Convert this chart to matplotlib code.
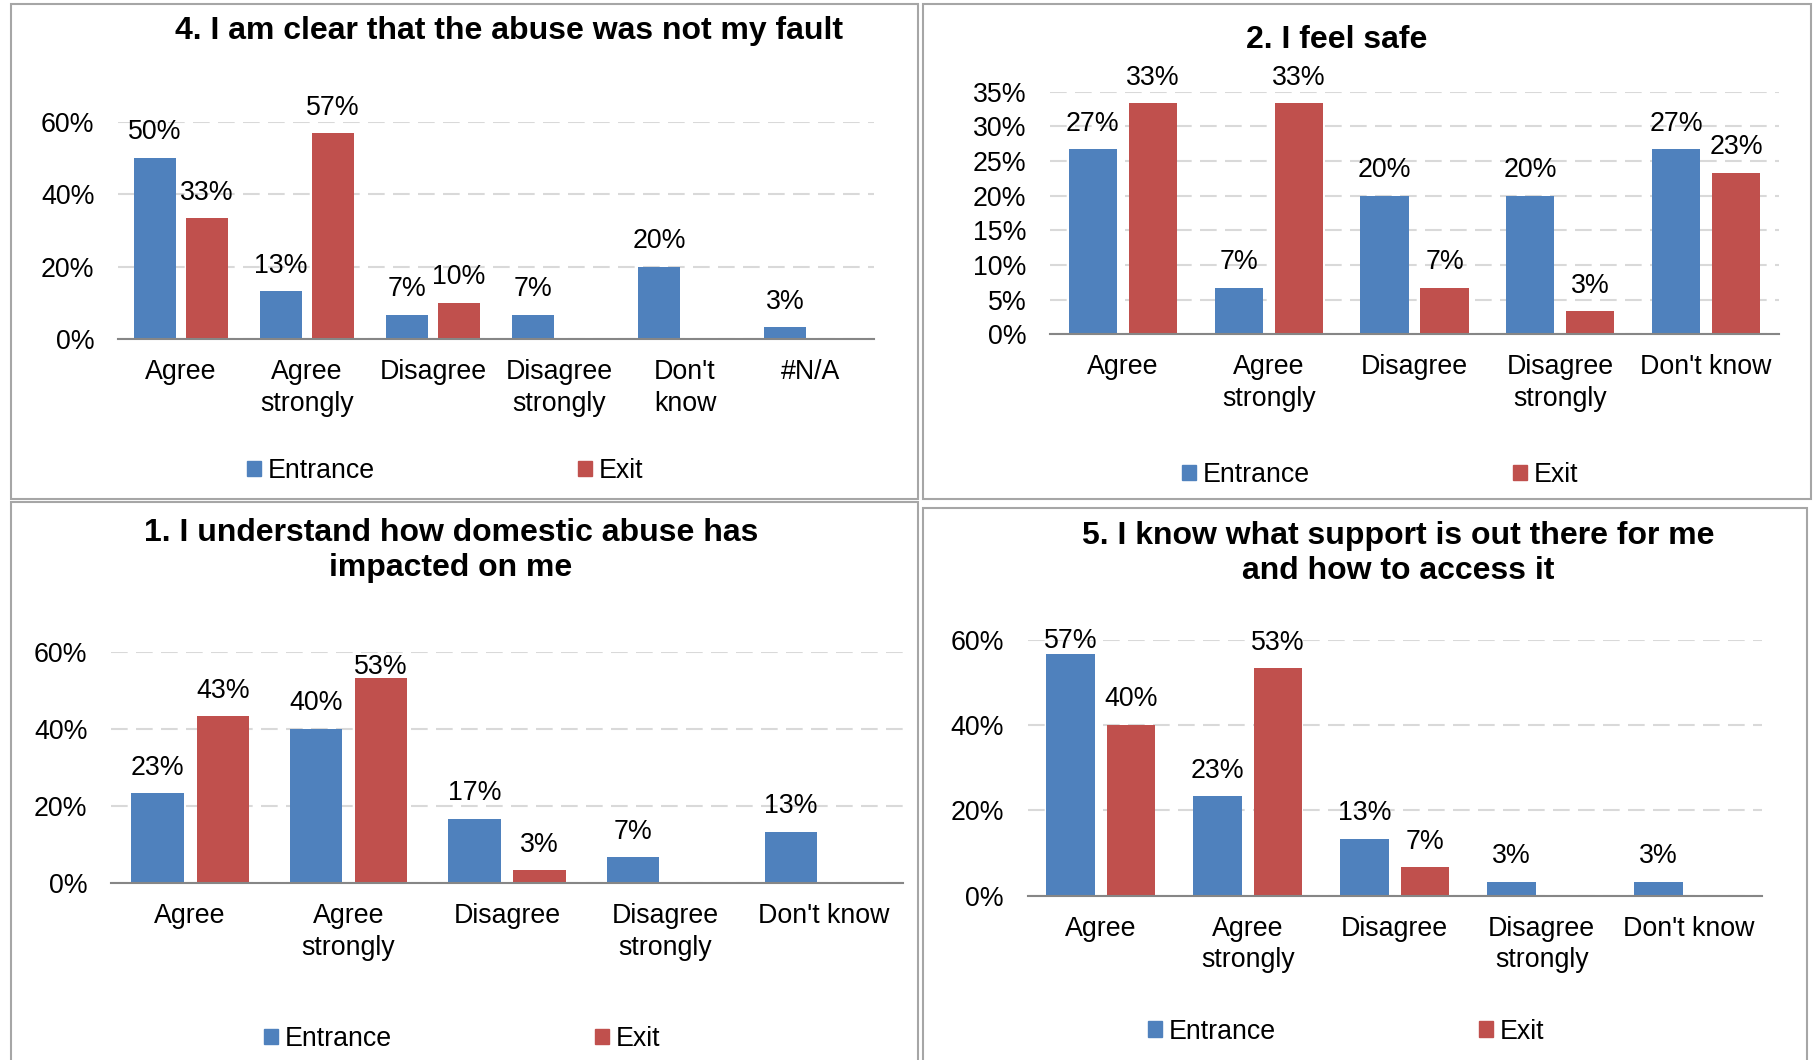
import matplotlib
matplotlib.use("Agg")
import matplotlib.pyplot as plt
from matplotlib.patches import Patch, Rectangle
from matplotlib.ticker import PercentFormatter
import numpy as np

plt.rcParams["font.family"] = ["Liberation Sans", "DejaVu Sans"]

W, H = 1814, 1060
BLUE = "#4F81BD"
RED = "#C0504D"
GRID = "#D9D9D9"
FRAME = "#A6A6A6"
FS = 19.3
TITLE_FS = 23

series_names = ["Entrance", "Exit"]

# 4. not my fault
q4_title = "4. I am clear that the abuse was not my fault"
q4_cats = ["Agree", "Agree\nstrongly", "Disagree", "Disagree\nstrongly", "Don't\nknow", "#N/A"]
q4_entrance = [0.50, 0.133, 0.067, 0.067, 0.20, 0.033]
q4_exit = [0.333, 0.567, 0.10, 0, 0, 0]

# 2. feel safe
q2_title = "2. I feel safe"
q2_cats = ["Agree", "Agree\nstrongly", "Disagree", "Disagree\nstrongly", "Don't know"]
q2_entrance = [0.267, 0.067, 0.20, 0.20, 0.267]
q2_exit = [0.333, 0.333, 0.067, 0.033, 0.233]

# 1. impact
q1_title = "1. I understand how domestic abuse has\nimpacted on me"
q1_cats = ["Agree", "Agree\nstrongly", "Disagree", "Disagree\nstrongly", "Don't know"]
q1_entrance = [0.233, 0.40, 0.167, 0.067, 0.133]
q1_exit = [0.433, 0.533, 0.033, 0, 0]

# 5. support
q5_title = "5. I know what support is out there for me\nand how to access it"
q5_cats = ["Agree", "Agree\nstrongly", "Disagree", "Disagree\nstrongly", "Don't know"]
q5_entrance = [0.567, 0.233, 0.133, 0.033, 0.033]
q5_exit = [0.40, 0.533, 0.067, 0, 0]


def fig_rect(x0, y0, x1, y1):
    # pixel box (top-left origin) -> figure fraction rect
    return [x0 / W, 1 - y1 / H, (x1 - x0) / W, (y1 - y0) / H]


def draw_panel(fig, frame, axbox, title, title_xy, cats, entrance, exit_, ymax, ystep,
               legend_xy, label_pads=None):
    label_pads = label_pads or {}
    fx0, fy0, fx1, fy1 = frame
    fig.add_artist(Rectangle((fx0 / W, 1 - fy1 / H), (fx1 - fx0) / W, (fy1 - fy0) / H,
                             transform=fig.transFigure, fill=False,
                             edgecolor=FRAME, lw=1.5))

    ax = fig.add_axes(fig_rect(*axbox))
    x = np.arange(len(cats))
    width = 0.33
    off = 0.206
    for s, (vals, color) in enumerate([(entrance, BLUE), (exit_, RED)]):
        xs = x - off if s == 0 else x + off
        bars = ax.bar(xs, vals, width, color=color, zorder=3)
        for i, (b, v) in enumerate(zip(bars, vals)):
            if v <= 0:
                continue
            ax.annotate(f"{v:.0%}", (b.get_x() + b.get_width() / 2, v),
                        xytext=(0, label_pads.get((s, i), 9)), textcoords="offset points",
                        ha="center", va="bottom", fontsize=FS, zorder=4,
                        annotation_clip=False)

    ax.set_xlim(-0.5, len(cats) - 0.5)
    ax.set_ylim(0, ymax)
    ax.set_yticks(np.arange(0, ymax + 1e-9, ystep))
    ax.yaxis.set_major_formatter(PercentFormatter(1.0, decimals=0))
    ax.set_xticks(x)
    ax.set_xticklabels(cats, fontsize=FS, linespacing=1.26)
    ax.tick_params(axis="y", length=0, pad=17, labelsize=FS)
    ax.tick_params(axis="x", length=0, pad=14.5)
    ax.grid(axis="y", color=GRID, lw=1.5, linestyle=(0, (8, 4)), zorder=0)
    for side in ["left", "right", "top"]:
        ax.spines[side].set_visible(False)
    ax.spines["bottom"].set_color("#868686")
    ax.spines["bottom"].set_linewidth(1.5)
    ax.spines["bottom"].set_zorder(5)

    fig.text(title_xy[0] / W, 1 - (title_xy[1] + 2.5) / H, title, fontsize=TITLE_FS,
             fontweight="bold", ha="center", va="center", linespacing=1.23)

    handles = [Patch(color=BLUE), Patch(color=RED)]
    fig.legend(handles, series_names, loc="center",
               bbox_to_anchor=(legend_xy[0] / W, 1 - (legend_xy[1] + 3) / H),
               ncol=2, frameon=False, fontsize=FS, handlelength=0.5,
               handleheight=0.5, handletextpad=0.25, columnspacing=7.6)
    return ax


fig = plt.figure(figsize=(W / 100, H / 100), dpi=100)

draw_panel(fig, (11, 4, 918, 499), (118, 121.5, 874, 339.3), q4_title, (509, 28),
           q4_cats, q4_entrance, q4_exit, 0.6, 0.2, (445, 468))
draw_panel(fig, (923, 4, 1811, 499), (1050, 91.6, 1779, 334.3), q2_title, (1337, 37.5),
           q2_cats, q2_entrance, q2_exit, 0.35, 0.05, (1380, 471.7))
draw_panel(fig, (11, 502, 918, 1065), (111, 651.8, 903, 883.2), q1_title, (451, 548),
           q1_cats, q1_entrance, q1_exit, 0.6, 0.2, (462, 1035.7),
           label_pads={(1, 1): -2})
draw_panel(fig, (923, 508, 1807, 1065), (1027.5, 639.6, 1762, 895.7), q5_title, (1398, 551),
           q5_cats, q5_entrance, q5_exit, 0.6, 0.2, (1346, 1028.6),
           label_pads={(0, 0): 0})

fig.savefig("out.png", dpi=100)
